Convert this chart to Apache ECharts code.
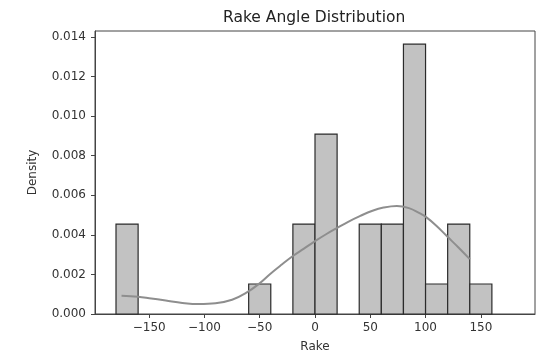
<!DOCTYPE html>
<html>
<head>
<meta charset="utf-8">
<script src="https://cdn.jsdelivr.net/npm/echarts@6/dist/echarts.min.js"></script>
<style>
  html, body { margin: 0; padding: 0; background: #fff; }
  #chart { width: 538px; height: 358px; }
</style>
</head>
<body>
<div id="chart"></div>
<script>
// histogram bins (left edges), width 20
const binStart = [-180, -160, -140, -120, -100, -80, -60, -40, -20, 0, 20, 40, 60, 80, 100, 120, 140]
const density = [0.004545, 0, 0, 0, 0, 0, 0.001515, 0, 0.004545, 0.00909, 0, 0.004545, 0.004545, 0.013636, 0.001515, 0.004545, 0.001515]
const binWidth = 20

// KDE curve
const kdeX = [-175, -160, -150, -135, -120, -105, -90, -75, -62, -51, -40, -30, -20, -10, 0, 10, 20, 30, 41, 52, 62, 74, 85, 95, 100, 110, 119, 130, 140]
const kdeY = [0.00092, 0.00087, 0.0008, 0.00068, 0.00056, 0.0005, 0.00054, 0.00072, 0.00108, 0.00151, 0.00205, 0.0025, 0.00293, 0.0033, 0.00368, 0.00403, 0.00435, 0.00466, 0.00496, 0.00522, 0.00538, 0.00546, 0.00535, 0.00508, 0.00492, 0.00445, 0.00395, 0.00335, 0.00277]

const xTicks = [-150, -100, -50, 0, 50, 100, 150]
const yTicks = [0, 0.002, 0.004, 0.006, 0.008, 0.01, 0.012, 0.014]

const chart = echarts.init(document.getElementById('chart'))

const axisFont = { fontFamily: 'DejaVu Sans', fontSize: 12, color: '#333' }

const option = {
  animation: false,
  title: {
    text: 'Rake Angle Distribution',
    left: 218,
    top: 5,
    textStyle: { fontFamily: 'DejaVu Sans', fontSize: 15.5, fontWeight: 'normal', color: '#222' }
  },
  grid: {
    left: 95, right: 3, top: 31, bottom: 43,
    show: true, borderColor: '#444', borderWidth: 1, backgroundColor: '#fff'
  },
  xAxis: {
    type: 'value',
    min: -199,
    max: 199,
    name: 'Rake',
    nameLocation: 'middle',
    nameGap: 27,
    nameTextStyle: axisFont,
    splitLine: { show: false },
    axisLine: { show: true, onZero: false, lineStyle: { color: '#444' } },
    axisTick: { show: true, length: 4, customValues: xTicks, lineStyle: { color: '#444' } },
    axisLabel: Object.assign({ customValues: xTicks, margin: 8, formatter: v => String(v).replace('-', '\u2212') }, axisFont)
  },
  yAxis: {
    type: 'value',
    min: 0,
    max: 0.0143,
    name: 'Density',
    nameLocation: 'middle',
    nameGap: 56,
    nameTextStyle: axisFont,
    splitLine: { show: false },
    axisLine: { show: true, onZero: false, lineStyle: { color: '#444' } },
    axisTick: { show: true, length: 4, customValues: yTicks, lineStyle: { color: '#444' } },
    axisLabel: Object.assign({ customValues: yTicks, margin: 9, formatter: v => v.toFixed(3) }, axisFont)
  },
  series: [
    {
      type: 'custom',
      data: binStart.map((s, i) => [s, s + binWidth, density[i]]).filter(d => d[2] > 0),
      renderItem: (params, api) => {
        const p0 = api.coord([api.value(0), 0])
        const p1 = api.coord([api.value(1), api.value(2)])
        return {
          type: 'rect',
          shape: { x: p0[0], y: p1[1], width: p1[0] - p0[0], height: p0[1] - p1[1] },
          style: { fill: '#c2c2c2', stroke: '#2b2b2b', lineWidth: 1.2 }
        }
      },
      z: 2
    },
    {
      type: 'line',
      data: kdeX.map((x, i) => [x, kdeY[i]]),
      smooth: 0.4,
      showSymbol: false,
      lineStyle: { color: '#8e8e8e', width: 2 },
      z: 3
    }
  ]
}

chart.setOption(option)
</script>
</body>
</html>
